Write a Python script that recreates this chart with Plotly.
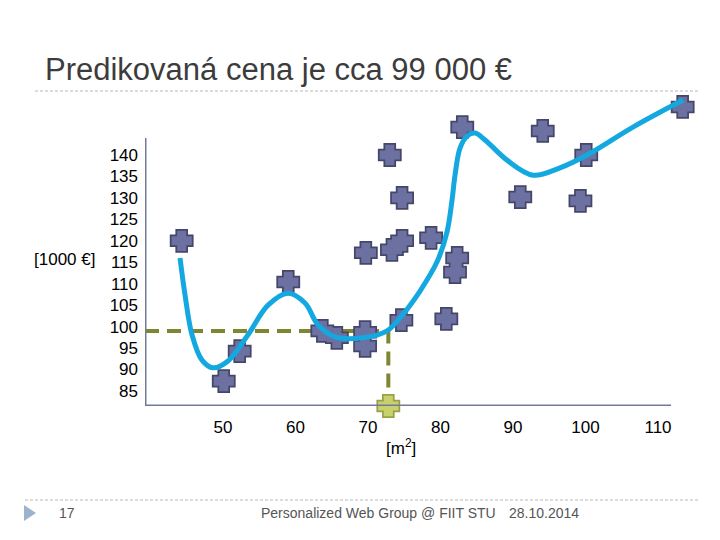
import plotly.graph_objects as go

# flat size [m2] and price [1000 EUR] of the known flats
area = [44.3, 50.1, 52.3, 59.0, 63.7, 65.7, 69.6, 69.6, 74.6, 80.8,
        73.0, 74.7, 69.7, 73.3, 74.7, 78.7, 82.3, 82.0, 83.0, 94.1,
        100.1, 91.0, 99.3, 113.4]
price = [120.0, 87.3, 94.3, 110.4, 99.0, 97.4, 98.7, 95.5, 101.5, 101.8,
         140.0, 130.0, 117.2, 117.9, 120.0, 120.7, 116.0, 112.7, 146.5, 145.6,
         140.0, 130.2, 129.3, 151.2]

# fitted model curve
fit_x = [44.07, 44.76, 45.72, 47.10, 48.62, 50.69, 53.45, 56.21, 58.97, 61.31,
         63.10, 65.45, 69.31, 72.62, 74.83, 77.17, 79.52, 80.90, 81.59, 82.00,
         82.69, 83.66, 84.76, 86.14, 89.17, 92.76, 96.48, 100.21, 106.55, 113.45]
fit_y = [116.0, 107.4, 98.1, 92.2, 90.4, 92.0, 98.1, 105.0, 107.8, 105.5,
         100.4, 97.6, 97.4, 99.0, 102.9, 108.3, 115.1, 122.1, 129.5, 135.3,
         141.6, 144.4, 145.1, 143.5, 138.8, 135.3, 137.0, 140.0, 146.5, 152.8]

pred_x = 72.8
pred_y = 99

x_ticks = [50, 60, 70, 80, 90, 100, 110]
y_ticks = [85, 90, 95, 100, 105, 110, 115, 120, 125, 130, 135, 140]

x_min, x_max = 39.24, 115.79
y_min, y_max = 81.5, 153.98

fig = go.Figure()

# dashed guide lines to the prediction
fig.add_trace(go.Scatter(x=[x_min, pred_x, pred_x], y=[pred_y, pred_y, y_min],
                         mode="lines", line=dict(color="#7F8632", width=4, dash="14px,8px"),
                         hoverinfo="skip"))

# fat crosses: dark outline layer, then fill layer on top
fig.add_trace(go.Scatter(x=area, y=price, mode="markers", cliponaxis=False,
                         marker=dict(symbol="cross", size=14, color="#44476A",
                                     line=dict(color="#44476A", width=7))))
fig.add_trace(go.Scatter(x=area, y=price, mode="markers", cliponaxis=False,
                         marker=dict(symbol="cross", size=14, color="#6C71A1",
                                     line=dict(color="#6C71A1", width=3.5))))

fig.add_trace(go.Scatter(x=fit_x, y=fit_y, mode="lines",
                         line=dict(color="#14A8E0", width=5, shape="spline", smoothing=1.0)))

fig.add_trace(go.Scatter(x=[pred_x], y=[y_min], mode="markers", cliponaxis=False,
                         marker=dict(symbol="cross", size=14, color="#9AA04A",
                                     line=dict(color="#9AA04A", width=7))))
fig.add_trace(go.Scatter(x=[pred_x], y=[y_min], mode="markers", cliponaxis=False,
                         marker=dict(symbol="cross", size=14, color="#C9D16C",
                                     line=dict(color="#C9D16C", width=3.5))))

# axis lines
fig.add_shape(type="line", x0=x_min, x1=x_min, y0=y_min, y1=143.96,
              line=dict(color="#747A96", width=3))
fig.add_shape(type="line", x0=x_min, x1=111.8, y0=y_min, y1=y_min,
              line=dict(color="#747A96", width=3))

# slide decoration, paper coords relative to plot area
W, H, L, B = 555.0, 311.0, 145.0, 406.0
def px(x): return (x - L) / W
def py(y): return (B - y) / H

for y_line, x0 in [(91, 35), (500, 25)]:
    fig.add_shape(type="line", xref="paper", yref="paper",
                  x0=px(x0), x1=px(700), y0=py(y_line), y1=py(y_line),
                  line=dict(color="#B8B8B8", width=1, dash="3px,2px"))

fig.add_shape(type="path", xref="paper", yref="paper",
              path=f"M {px(24)} {py(505)} L {px(36)} {py(513)} L {px(24)} {py(521)} Z",
              fillcolor="#9BB3CB", line=dict(width=0))

fig.add_annotation(text="Predikovaná cena je cca 99 000 €", xref="paper", yref="paper",
                   x=px(43), y=py(70), xanchor="left", yanchor="middle", showarrow=False,
                   font=dict(size=31, color="#3C3C3C"))
fig.add_annotation(text="[1000 €]", xref="paper", yref="paper",
                   x=px(97), y=py(259), xanchor="right", yanchor="middle", showarrow=False,
                   font=dict(size=17, color="black"))
fig.add_annotation(text="[m<sup>2</sup>]", xref="paper", yref="paper",
                   x=px(401), y=py(447), xanchor="center", yanchor="middle", showarrow=False,
                   font=dict(size=17, color="black"))
fig.add_annotation(text="17", xref="paper", yref="paper",
                   x=px(57), y=py(513), xanchor="left", yanchor="middle", showarrow=False,
                   font=dict(size=14, color="#555555"))
fig.add_annotation(text="Personalized Web Group @ FIIT STU", xref="paper", yref="paper",
                   x=px(378), y=py(513), xanchor="center", yanchor="middle", showarrow=False,
                   font=dict(size=14, color="#555555"))
fig.add_annotation(text="28.10.2014", xref="paper", yref="paper",
                   x=px(544), y=py(513), xanchor="center", yanchor="middle", showarrow=False,
                   font=dict(size=14, color="#555555"))

fig.update_layout(
    width=720, height=540,
    margin=dict(l=145, r=20, t=95, b=134),
    plot_bgcolor="white", paper_bgcolor="white",
    showlegend=False,
    font=dict(family="Liberation Sans, Arial, sans-serif"),
    xaxis=dict(range=[x_min, x_max], tickvals=x_ticks, showgrid=False, zeroline=False,
               showline=False, ticks="", ticklabelstandoff=9,
               tickfont=dict(size=17, color="black")),
    yaxis=dict(range=[y_min, y_max], tickvals=y_ticks, showgrid=False, zeroline=False,
               showline=False, ticks="", ticklabelstandoff=6,
               tickfont=dict(size=17, color="black")),
)

# page body has a default 8px margin; drop it so the figure sits at 0,0
fig.write_html("out.html", config={"displayModeBar": False},
               post_script="document.body.style.margin='0';")
